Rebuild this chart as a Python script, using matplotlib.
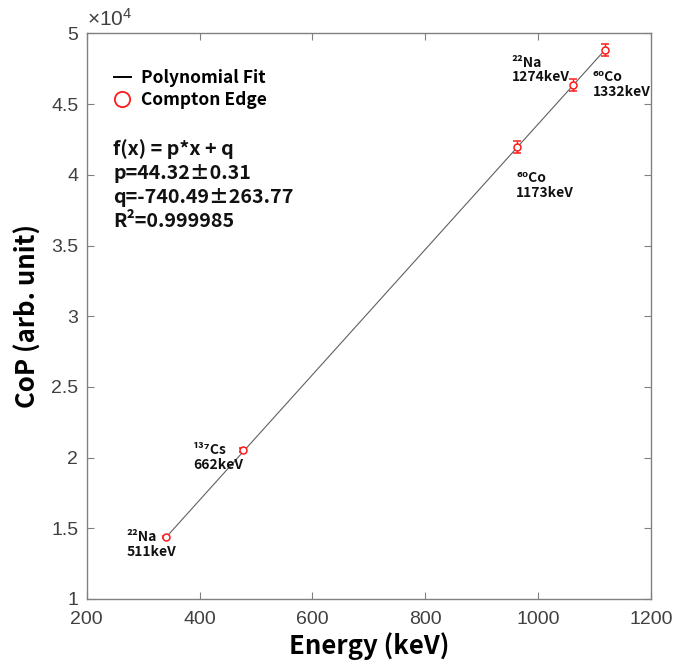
import matplotlib
matplotlib.use("Agg")
import matplotlib.pyplot as plt
from matplotlib.lines import Line2D
from matplotlib.ticker import FuncFormatter
import numpy as np

# 데이터
energy = [340.7, 477.3, 963.4, 1061.7, 1118.1]          # Compton edge (keV)
cop = [14370, 20520, 41960, 46360, 48830]               # CoP (arb. unit)
cop_err = [90, 130, 400, 400, 420]
sources = ["²²Na\n511keV", "¹³⁷Cs\n662keV", "⁶⁰Co\n1173keV",
           "²²Na\n1274keV", "⁶⁰Co\n1332keV"]
fit_p = 44.32
fit_q = -740.49
fit_lines = ["f(x) = p*x + q", "p=44.32±0.31", "q=-740.49±263.77", "R²=0.999985"]
xticks = [200, 400, 600, 800, 1000, 1200]
yticks = [10000, 15000, 20000, 25000, 30000, 35000, 40000, 45000, 50000]

# 라벨 위치 (레이아웃)
label_xy = [(271, 13850), (388, 20000), (961, 39240), (953, 47420), (1097, 46400)]

plt.rcParams["font.family"] = ["Liberation Sans", "DejaVu Sans"]
plt.rcParams["mathtext.fontset"] = "custom"
plt.rcParams["mathtext.rm"] = "Liberation Sans"
plt.rcParams["mathtext.default"] = "rm"

kfont = ["Noto Sans CJK KR", "DejaVu Sans"]
red = "#ff1a1a"
axcol = "#808080"
tcol = "#404040"

fig = plt.figure(figsize=(6.88, 6.65), dpi=100)
ax = fig.add_axes([0.126, 0.0993, 0.820, 0.8504])

xs = np.array([energy[0], energy[-1]])
ax.plot(xs, fit_p * xs + fit_q, color="#606060", lw=0.8, zorder=2)
ax.errorbar(energy, cop, yerr=cop_err, fmt="o", mfc="white", mec=red, ecolor=red,
            ms=5, mew=1.1, elinewidth=1.0, capsize=3, capthick=1.0, zorder=3)

for (tx, ty), s in zip(label_xy, sources):
    ax.text(tx, ty, s, family=kfont, fontweight="bold", fontsize=10,
            ha="left", va="center", linespacing=1.05, color="#111111")

# 범례
handles = [Line2D([], [], color="black", lw=1.4),
           Line2D([], [], ls="none", marker="o", mfc="white", mec=red, ms=11, mew=1.3)]
ax.legend(handles, ["Polynomial Fit", "Compton Edge"], loc="upper left",
          bbox_to_anchor=(0.02, 0.964), frameon=False, handlelength=1.0,
          handletextpad=0.6, labelspacing=0.2,
          prop={"family": kfont, "weight": "bold", "size": 12.5})

# 식
for i, s in enumerate(fit_lines):
    ax.text(0.047, 0.795 - i * 0.0428, s, transform=ax.transAxes, family=kfont,
            fontweight="bold", fontsize=14.2, ha="left", va="center", color="#111111")

ax.set_xlim(200, 1200)
ax.set_ylim(10000, 50000)
ax.set_xticks(xticks)
ax.set_yticks(yticks)
ax.yaxis.set_major_formatter(FuncFormatter(lambda v, pos: "%g" % (v / 1e4)))
ax.text(0.0, 1.006, r"$\times10^{4}$", transform=ax.transAxes, fontsize=15,
        color=tcol, ha="left", va="bottom")

ax.tick_params(direction="in", top=True, right=True, length=5, width=0.8,
               color=axcol, labelsize=14, labelcolor=tcol)
ax.tick_params(axis="x", pad=9)
ax.tick_params(axis="y", pad=6)
for sp in ax.spines.values():
    sp.set_color(axcol)
    sp.set_linewidth(1.0)

ax.set_xlabel("Energy (keV)", family=kfont, fontweight="bold", fontsize=18.5, labelpad=3)
ax.set_ylabel("CoP (arb. unit)", family=kfont, fontweight="bold", fontsize=18.5, labelpad=7)

fig.savefig("out.png", dpi=100)
